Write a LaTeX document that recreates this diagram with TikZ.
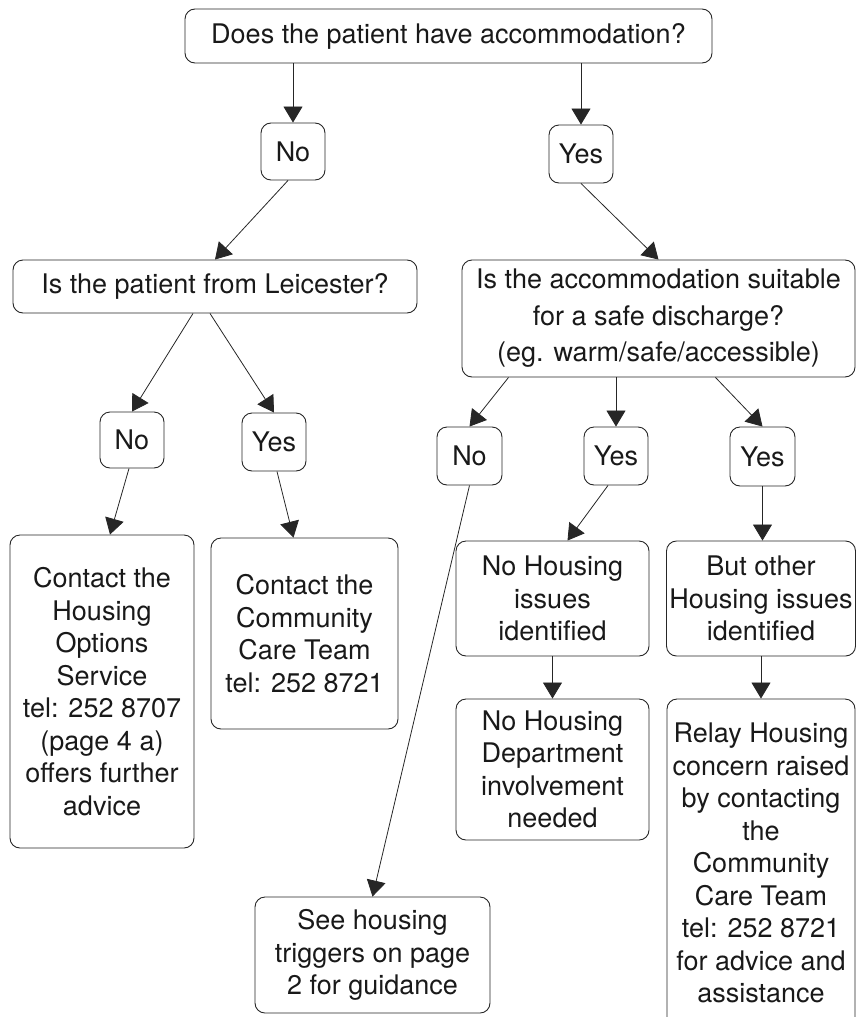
\documentclass[tikz,border=0pt]{standalone}
\usepackage{fontspec}
\setmainfont{TeX Gyre Heros}
\usetikzlibrary{arrows.meta}

\begin{document}
\begin{tikzpicture}[x=1pt,y=-1pt]

\tikzset{box/.style 2 args = {shape=rectangle,draw=black!85,line width=0.9pt,rounded corners=10pt,
  align=center,inner sep=0pt,minimum width=#1pt,minimum height=#2pt,
  font=\fontsize{27}{32.5}\selectfont,text=black!90}}
\tikzset{edge/.style = {draw=black!85,line width=0.8pt,-{Triangle[length=16pt,width=19pt]}}}
\useasboundingbox (0,0) rectangle (856,1017);
%questions
\node[box={527}{54}] (1) at (448.5,36) {Does the patient have accommodation?};
\node[box={64}{57}] (2) at (293,151.5) {No};
\node[box={64}{58}] (3) at (581,154) {Yes};
\node[box={404}{53}] (4) at (215,286.5) {Is the patient from Leicester?};
\node[box={393}{117},font=\fontsize{27}{36.5}\selectfont] (5) at (658.5,318.5) {Is the accommodation suitable\\for a safe discharge?\\(eg. warm/safe/accessible)};
%answers
\node[box={64}{56}] (6) at (132,440) {No};
\node[box={64}{58}] (7) at (274,442) {Yes};
\node[box={65}{58}] (8) at (469.5,456) {No};
\node[box={64}{58}] (9) at (616,456) {Yes};
\node[box={65}{59}] (10) at (762.5,456.5) {Yes};
%outcomes
\node[box={184}{313}] (11) at (102,691.5) {Contact the\\Housing\\Options\\Service\\tel: 252 8707\\(page 4 a)\\offers further\\advice};
\node[box={187}{191}] (12) at (304.5,633.5) {Contact the\\Community\\Care Team\\tel: 252 8721};
\node[box={193}{115}] (13) at (552.5,598.5) {No Housing\\issues\\identified};
\node[box={189}{115}] (14) at (761,598.5) {But other\\Housing issues\\identified};
\node[box={193}{141}] (15) at (552.5,769.5) {No Housing\\Department\\involvement\\needed};
\node[box={188}{328}] (16) at (761,863) {Relay Housing\\concern raised\\by contacting\\the\\Community\\Care Team\\tel: 252 8721\\for advice and\\assistance};
\node[box={235}{116}] (17) at (372.5,955) {See housing\\triggers on page\\2 for guidance};
%connectors
\draw [edge] (1.south -| 2.north) -- (2.north);
\draw [edge] (1.south -| 3.north) -- (3.north);
\draw [edge] ([xshift=-5pt]2.south) -- (4.north);
\draw [edge] (3.south) -- (5.north);
\draw [edge] ([xshift=-22pt]4.south) -- (6.north);
\draw [edge] ([xshift=-5pt]4.south) -- (7.north);
\draw [edge] ([xshift=-150pt]5.south) -- (8.north);
\draw [edge] (5.south -| 9.north) -- (9.north);
\draw [edge] ([xshift=57pt]5.south) -- (10.north);
\draw [edge] ([xshift=-3pt]6.south) -- ([xshift=8pt]11.north);
\draw [edge] ([xshift=3pt]7.south) -- ([xshift=-11pt]12.north);
\draw [edge] (8.south) -- (17.north);
\draw [edge] ([xshift=-8pt]9.south) -- ([xshift=15pt]13.north);
\draw [edge] (10.south) -- (10.south |- 14.north);
\draw [edge] (13.south) -- (13.south |- 15.north);
\draw [edge] (14.south) -- (14.south |- 16.north);

\end{tikzpicture}
\end{document}
